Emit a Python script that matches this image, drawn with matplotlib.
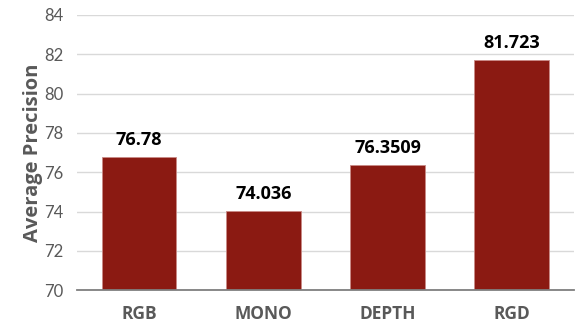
import matplotlib.pyplot as plt

# Average precision per input modality
modes = ['RGB', 'MONO', 'DEPTH', 'RGD']
precision = [76.78, 74.036, 76.3509, 81.723]
value_labels = ['76.78', '74.036', '76.3509', '81.723']
yticks = [70, 72, 74, 76, 78, 80, 82, 84]

plt.rcParams['font.family'] = ['Lato', 'DejaVu Sans']
bold_font = ['Open Sans', 'DejaVu Sans']

fig = plt.figure(figsize=(5.76, 3.26), dpi=100)
ax = fig.add_axes([0.134, 0.11, 0.862, 0.844])

x = range(len(modes))
bars = ax.bar(x, precision, width=0.6, bottom=0, color='#8B1A12',
              edgecolor='#c98a86', linewidth=0.6, zorder=3)

for b, txt in zip(bars, value_labels):
    ax.text(b.get_x() + b.get_width() / 2, b.get_height() + 0.4, txt,
            ha='center', va='bottom', fontsize=13, fontweight='bold',
            family=bold_font, color='black')

ax.set_xlim(-0.5, 3.5)
ax.set_ylim(70, 84)
ax.set_yticks(yticks)
ax.set_xticks(list(x))
ax.set_xticklabels(modes, fontsize=12.5, fontweight='bold', family=bold_font,
                   color='#595959')
ax.tick_params(axis='y', labelsize=12, labelcolor='#595959', length=0, pad=10)
ax.tick_params(axis='x', length=0, pad=11)

ax.grid(axis='y', color='#d9d9d9', linewidth=1, zorder=0)
for s in ['top', 'right', 'left']:
    ax.spines[s].set_visible(False)
ax.spines['bottom'].set_color('#7f7f7f')
ax.spines['bottom'].set_linewidth(1.3)
ax.spines['bottom'].set_zorder(4)

ax.set_ylabel('Average Precision', fontsize=14.5, fontweight='bold',
              family=bold_font, color='#595959', labelpad=1)

fig.savefig('out.png', dpi=100)
